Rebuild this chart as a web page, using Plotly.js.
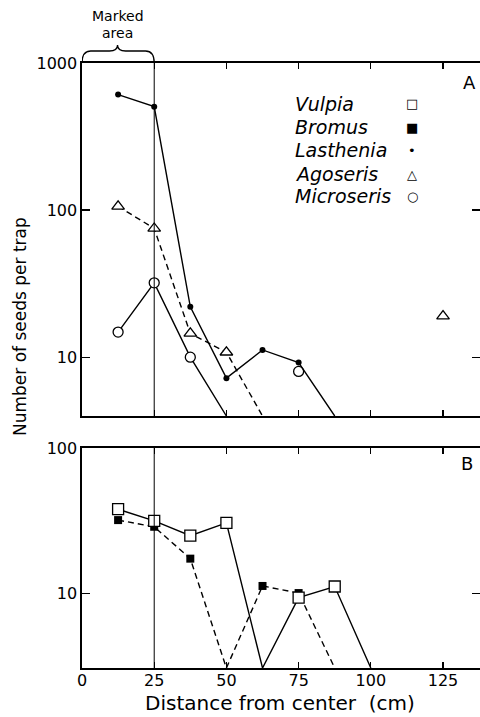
<!DOCTYPE html>
<html><head><meta charset="utf-8">
<script src="https://cdn.plot.ly/plotly-3.0.1.min.js"></script>
<style>html,body{margin:0;padding:0;background:#fff;overflow:hidden}</style>
</head><body><div id="chart" style="width:480px;height:717px"></div>
<script>
// Distances (cm)
const dist = [12.5, 25, 37.5, 50, 62.5, 75, 87.5, 100, 112.5, 125];
// Panel A (null = not plotted, 0 = zero seeds drawn at baseline)
const lasthenia  = [610, 505, 22, 7.2, 11.2, 9.2, 0, null, null, null];
const agoseris   = [106, 75, 14.5, 10.8, 0, null, null, null, null, 19];
const microseris = [14.8, 32, 10, 0, null, 8.0, null, null, null, null];
// Panel B
const vulpia = [38, 31.6, 25, 30.6, 0, 9.4, 11.2, 0, null, null];
const bromus = [32, 28.8, 17.4, 0, 11.3, 10.1, 0, null, null, null];

const xTicks = [0, 25, 50, 75, 100, 125];
const yTicksA = [10, 100, 1000];
const yTicksB = [10, 100];
const rangeA = [0.6, 3];
const rangeB = [0.49, 2];

function lineVals(arr, floorLog) {
  return arr.map(v => v === null ? null : (v === 0 ? Math.pow(10, floorLog) : v));
}
function markVals(arr) { return arr.map(v => (v === null || v === 0) ? null : v); }

const solid = {color: '#000', width: 1.4, dash: 'solid'};
const dashed = {color: '#000', width: 1.4, dash: '6px,4px'};

function series(vals, axis, floorLog, line, marker) {
  const xa = axis === 'A' ? 'x' : 'x2', ya = axis === 'A' ? 'y' : 'y2';
  return [
    {x: dist, y: lineVals(vals, floorLog), mode: 'lines', line: line, xaxis: xa, yaxis: ya,
     connectgaps: false, showlegend: false, hoverinfo: 'skip'},
    {x: dist, y: markVals(vals), mode: 'markers', marker: marker, xaxis: xa, yaxis: ya,
     showlegend: false, cliponaxis: false}
  ];
}

const traces = [].concat(
  series(microseris, 'A', rangeA[0], solid, {symbol: 'circle', size: 10, color: '#fff', line: {width: 1.3, color: '#000'}}),
  series(agoseris, 'A', rangeA[0], dashed, {symbol: 'triangle-up', size: 11, color: '#fff', line: {width: 1.3, color: '#000'}}),
  series(lasthenia, 'A', rangeA[0], solid, {symbol: 'circle', size: 6, color: '#000'}),
  series(bromus, 'B', rangeB[0], dashed, {symbol: 'square', size: 8, color: '#000'}),
  series(vulpia, 'B', rangeB[0], solid, {symbol: 'square', size: 11, color: '#fff', line: {width: 1.3, color: '#000'}})
);

const fontFam = 'DejaVu Sans, sans-serif';
const axX = {range: [0, 137.8], tickvals: xTicks, ticks: 'inside', ticklen: 6, tickwidth: 1.3,
  tickcolor: '#000', showline: true, linewidth: 1.6, linecolor: '#000', mirror: 'ticks',
  showgrid: false, zeroline: false, fixedrange: true};
const axY = {type: 'log', ticks: 'inside', ticklen: 8, tickwidth: 1.3, tickcolor: '#000',
  showline: true, linewidth: 1.6, linecolor: '#000', mirror: 'ticks', showgrid: false,
  zeroline: false, fixedrange: true};

const legendNames = ['Vulpia', 'Bromus', 'Lasthenia', 'Agoseris', 'Microseris'];
const legendSyms = ['\u25A1', '\u25A0', '\u2022', '\u25B3', '\u25CB'];
const legendY = [104, 127, 150, 174, 196];
const toPY = py => (668 - py) / 605;
const toPX = px => (px - 82) / 398;

const annotations = [];
legendNames.forEach((n, i) => {
  annotations.push({text: '<i>' + n + '</i>', xref: 'paper', yref: 'paper', x: toPX(293), y: toPY(legendY[i]),
    xanchor: 'left', yanchor: 'middle', showarrow: false, font: {size: 19, color: '#000', family: fontFam}});
  annotations.push({text: legendSyms[i], xref: 'paper', yref: 'paper', x: toPX(412), y: toPY(legendY[i]),
    xanchor: 'center', yanchor: 'middle', showarrow: false, font: {size: 13, color: '#000', family: fontFam}});
});
const ctr = {xanchor: 'center', yanchor: 'middle', showarrow: false};
annotations.push(Object.assign({text: 'A', xref: 'paper', yref: 'paper', x: toPX(469), y: toPY(82),
  font: {size: 18, color: '#000', family: fontFam}}, ctr));
annotations.push(Object.assign({text: 'B', xref: 'paper', yref: 'paper', x: toPX(467), y: toPY(463),
  font: {size: 18, color: '#000', family: fontFam}}, ctr));
annotations.push(Object.assign({text: 'Marked', xref: 'x', yref: 'paper', x: 12.3, y: toPY(16),
  font: {size: 14, color: '#000', family: fontFam}}, ctr));
annotations.push(Object.assign({text: 'area', xref: 'x', yref: 'paper', x: 12.3, y: toPY(33),
  font: {size: 14, color: '#000', family: fontFam}}, ctr));
annotations.push(Object.assign({text: 'Number of seeds per trap', xref: 'paper', yref: 'paper', x: toPX(20), y: toPY(327),
  textangle: -90, font: {size: 17, color: '#000', family: fontFam}}, ctr));
annotations.push(Object.assign({text: 'Distance from center&nbsp;&nbsp;(cm)', xref: 'paper', yref: 'paper', x: toPX(280), y: toPY(703),
  font: {size: 20, color: '#000', family: fontFam}}, ctr));

const b0 = 1.0, b1 = toPY(51), b2 = toPY(45);
const shapes = [
  {type: 'line', xref: 'x', yref: 'y domain', x0: 25, x1: 25, y0: 0, y1: 1, line: {color: '#000', width: 1}},
  {type: 'line', xref: 'x2', yref: 'y2 domain', x0: 25, x1: 25, y0: 0, y1: 1, line: {color: '#000', width: 1}},
  {type: 'path', xref: 'x', yref: 'paper',
   path: `M 0,${b0} Q 0,${b1} 3,${b1} L 9.5,${b1} Q 12.3,${b1} 12.3,${b2} Q 12.3,${b1} 15.1,${b1} L 22,${b1} Q 25,${b1} 25,${b0}`,
   line: {color: '#000', width: 1.3}}
];

const layout = {
  width: 480, height: 717, margin: {l: 82, r: 0, t: 63, b: 49},
  paper_bgcolor: '#fff', plot_bgcolor: '#fff', showlegend: false,
  font: {family: fontFam, size: 16, color: '#000'},
  xaxis: Object.assign({}, axX, {anchor: 'y', showticklabels: false}),
  yaxis: Object.assign({}, axY, {domain: [toPY(416), 1], range: rangeA, tickvals: yTicksA, ticktext: ['10', '100', '1000']}),
  xaxis2: Object.assign({}, axX, {anchor: 'y2', tickfont: {size: 16}, ticklabelstandoff: -3}),
  yaxis2: Object.assign({}, axY, {domain: [0, toPY(448)], range: rangeB, tickvals: yTicksB, ticktext: ['10', '100']}),
  annotations: annotations, shapes: shapes
};

Plotly.newPlot('chart', traces, layout, {displayModeBar: false, staticPlot: true});
</script></body></html>
